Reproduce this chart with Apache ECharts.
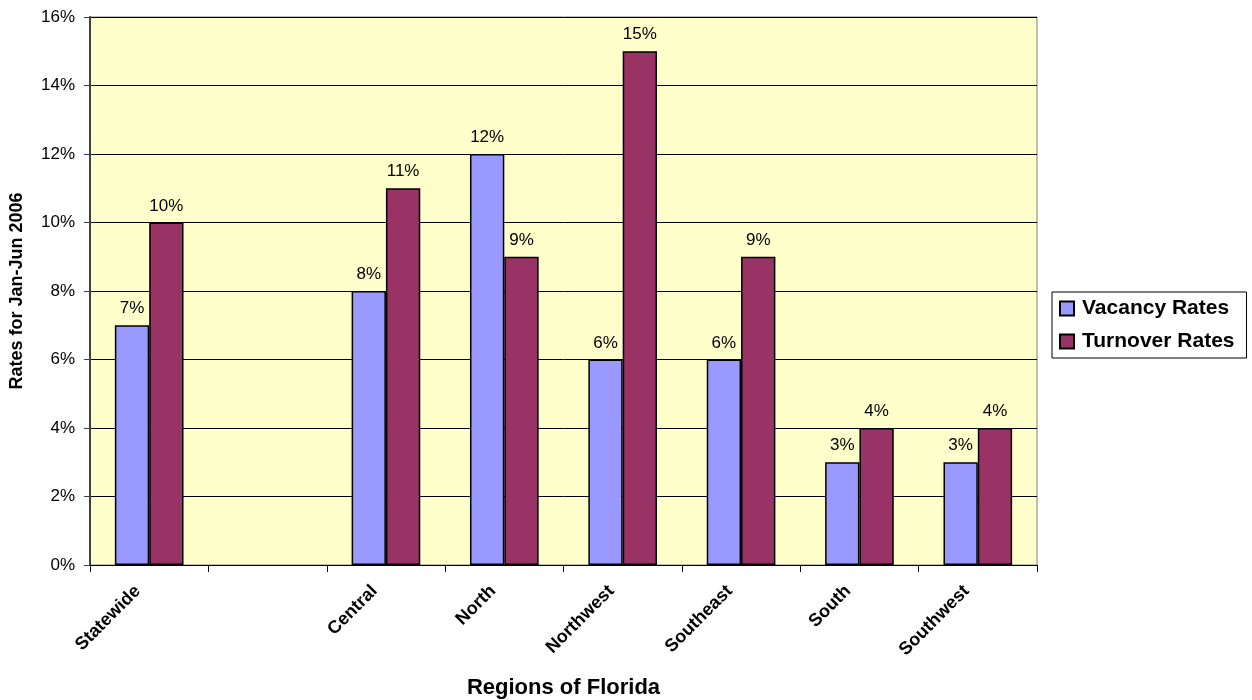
<!DOCTYPE html>
<html>
<head>
<meta charset="utf-8">
<script src="https://cdn.jsdelivr.net/npm/echarts@6/dist/echarts.min.js"></script>
<style>
  html, body { margin: 0; padding: 0; background: #ffffff; }
  #chart { width: 1252px; height: 700px; }
</style>
</head>
<body>
<div id="chart"></div>
<script>
// Regions (one blank slot after Statewide)
const categories = ['Statewide', '', 'Central', 'North', 'Northwest', 'Southeast', 'South', 'Southwest'];
// Rates in percent
const vacancyRates = [7, null, 8, 12, 6, 6, 3, 3];
const turnoverRates = [10, null, 11, 9, 15, 9, 4, 4];
const yTicks = { min: 0, max: 16, interval: 2 };

const chart = echarts.init(document.getElementById('chart'));
const font = 'Liberation Sans, Arial, sans-serif';

const labelStyle = {
  show: true,
  position: 'top',
  distance: 8,
  formatter: p => p.value == null ? '' : p.value + '%',
  color: '#000',
  fontFamily: font,
  fontSize: 17
};

chart.setOption({
  animation: false,
  textStyle: { fontFamily: font },
  grid: {
    left: 90, top: 17, width: 947, height: 548,
    outerBoundsMode: 'none',
    containLabel: false,
    show: true,
    backgroundColor: '#FFFFCC',
    borderColor: '#808080',
    borderWidth: 1
  },
  legend: {
    orient: 'vertical',
    left: 1052, top: 292,
    padding: [6, 12, 6, 7],
    itemGap: 12,
    itemWidth: 14, itemHeight: 14,
    icon: 'rect',
    backgroundColor: '#ffffff',
    borderColor: '#000000',
    borderWidth: 1,
    borderRadius: 0,
    textStyle: { fontFamily: font, fontSize: 21, fontWeight: 'bold', color: '#000', padding: [0, 0, 0, 3] },
    data: ['Vacancy Rates', 'Turnover Rates']
  },
  xAxis: {
    type: 'category',
    data: categories,
    name: 'Regions of Florida',
    nameLocation: 'middle',
    nameGap: 112,
    nameTextStyle: { fontFamily: font, fontSize: 22, fontWeight: 'bold', color: '#000' },
    axisLine: { lineStyle: { color: '#000', width: 1 } },
    axisTick: { show: true, length: 7, lineStyle: { color: '#000' } },
    axisLabel: {
      rotate: 45,
      margin: 12,
      interval: 0,
      padding: [0, 16, 0, 0],
      fontFamily: font,
      fontSize: 18,
      fontWeight: 'bold',
      color: '#000'
    }
  },
  yAxis: {
    type: 'value',
    min: yTicks.min, max: yTicks.max, interval: yTicks.interval,
    name: 'Rates for Jan-Jun 2006',
    nameLocation: 'middle',
    nameGap: 64,
    nameTextStyle: { fontFamily: font, fontSize: 18, fontWeight: 'bold', color: '#000' },
    axisLine: { show: true, lineStyle: { color: '#404040', width: 2 } },
    axisTick: { show: true, length: 6, lineStyle: { color: '#404040' } },
    axisLabel: {
      formatter: '{value}%',
      margin: 15,
      fontFamily: font,
      fontSize: 17,
      color: '#000'
    },
    splitLine: { show: true, lineStyle: { color: '#000', width: 1 } }
  },
  series: [
    {
      name: 'Vacancy Rates',
      type: 'bar',
      data: vacancyRates,
      barGap: '0%',
      barCategoryGap: '42%',
      itemStyle: { color: '#9999FF', borderColor: '#000', borderWidth: 1.5 },
      label: labelStyle
    },
    {
      name: 'Turnover Rates',
      type: 'bar',
      data: turnoverRates,
      barGap: '0%',
      barCategoryGap: '42%',
      itemStyle: { color: '#993366', borderColor: '#000', borderWidth: 1.5 },
      label: labelStyle
    }
  ]
});
</script>
</body>
</html>
